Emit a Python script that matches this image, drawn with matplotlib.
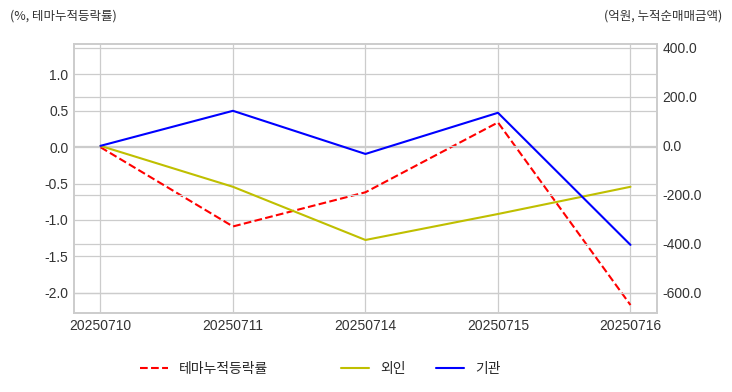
import numpy as np
import matplotlib
matplotlib.use("Agg")
import matplotlib.pyplot as plt

dates = ["20250710", "20250711", "20250714", "20250715", "20250716"]
theme_rate = [0.0, -1.09, -0.62, 0.34, -2.17]
foreign = [0.0, -167, -384, -278, -167]
institution = [0.0, 143, -33, 135, -404]

plt.style.use("seaborn-v0_8-whitegrid")
plt.rcParams["font.family"] = ["Liberation Sans", "Noto Sans CJK KR", "DejaVu Sans"]
plt.rcParams["axes.unicode_minus"] = False
kfont = ["Noto Sans CJK KR", "DejaVu Sans"]

fig = plt.figure(figsize=(7.32, 3.92), dpi=100)
ax = fig.add_axes([0.101, 0.2015, 0.7965, 0.6865])
ax2 = ax.twinx()

x = np.arange(len(dates))
l1, = ax.plot(x, theme_rate, color="r", linestyle="--", linewidth=1.5, label="테마누적등락률")
l2, = ax2.plot(x, foreign, color="y", linewidth=1.5, label="외인")
l3, = ax2.plot(x, institution, color="b", linewidth=1.5, label="기관")

ax.set_xlim(-0.2, 4.2)
ax.set_ylim(-2.28, 1.42)
ax2.set_ylim(-682, 416)
ax.set_yticks([-2.0, -1.5, -1.0, -0.5, 0.0, 0.5, 1.0])
ax.set_yticklabels(["%.1f" % v for v in ax.get_yticks()])
ax2.set_yticks([-600, -400, -200, 0, 200, 400])
ax2.set_yticklabels(["%.1f" % v for v in ax2.get_yticks()])
ax.set_xticks(x)
ax.set_xticklabels(dates)

for a in (ax, ax2):
    a.tick_params(labelsize=10, colors="#333333", length=0, pad=4)
    a.grid(True, color="#cccccc", linewidth=0.9)
    for s in a.spines.values():
        s.set_color("#cccccc")
        s.set_linewidth(1.2)

fig.text(0.013, 0.958, "(%, 테마누적등락률)", fontsize=9, color="#333333", family=kfont, va="center")
fig.text(0.987, 0.958, "(억원, 누적순매매금액)", fontsize=9, color="#333333", family=kfont, va="center", ha="right")

# legend split in two groups like the original layout
leg1 = fig.legend([l1], ["테마누적등락률"], loc="center left", bbox_to_anchor=(0.1915, 0.058),
                  frameon=False, prop={"family": kfont, "size": 10}, handlelength=2.0,
                  borderaxespad=0, borderpad=0)
leg2 = fig.legend([l2, l3], ["외인", "기관"], loc="center left", bbox_to_anchor=(0.4665, 0.058),
                  ncol=2, frameon=False, prop={"family": kfont, "size": 10}, handlelength=2.0,
                  columnspacing=2.2, borderaxespad=0, borderpad=0)

fig.savefig("out.png", dpi=100)
